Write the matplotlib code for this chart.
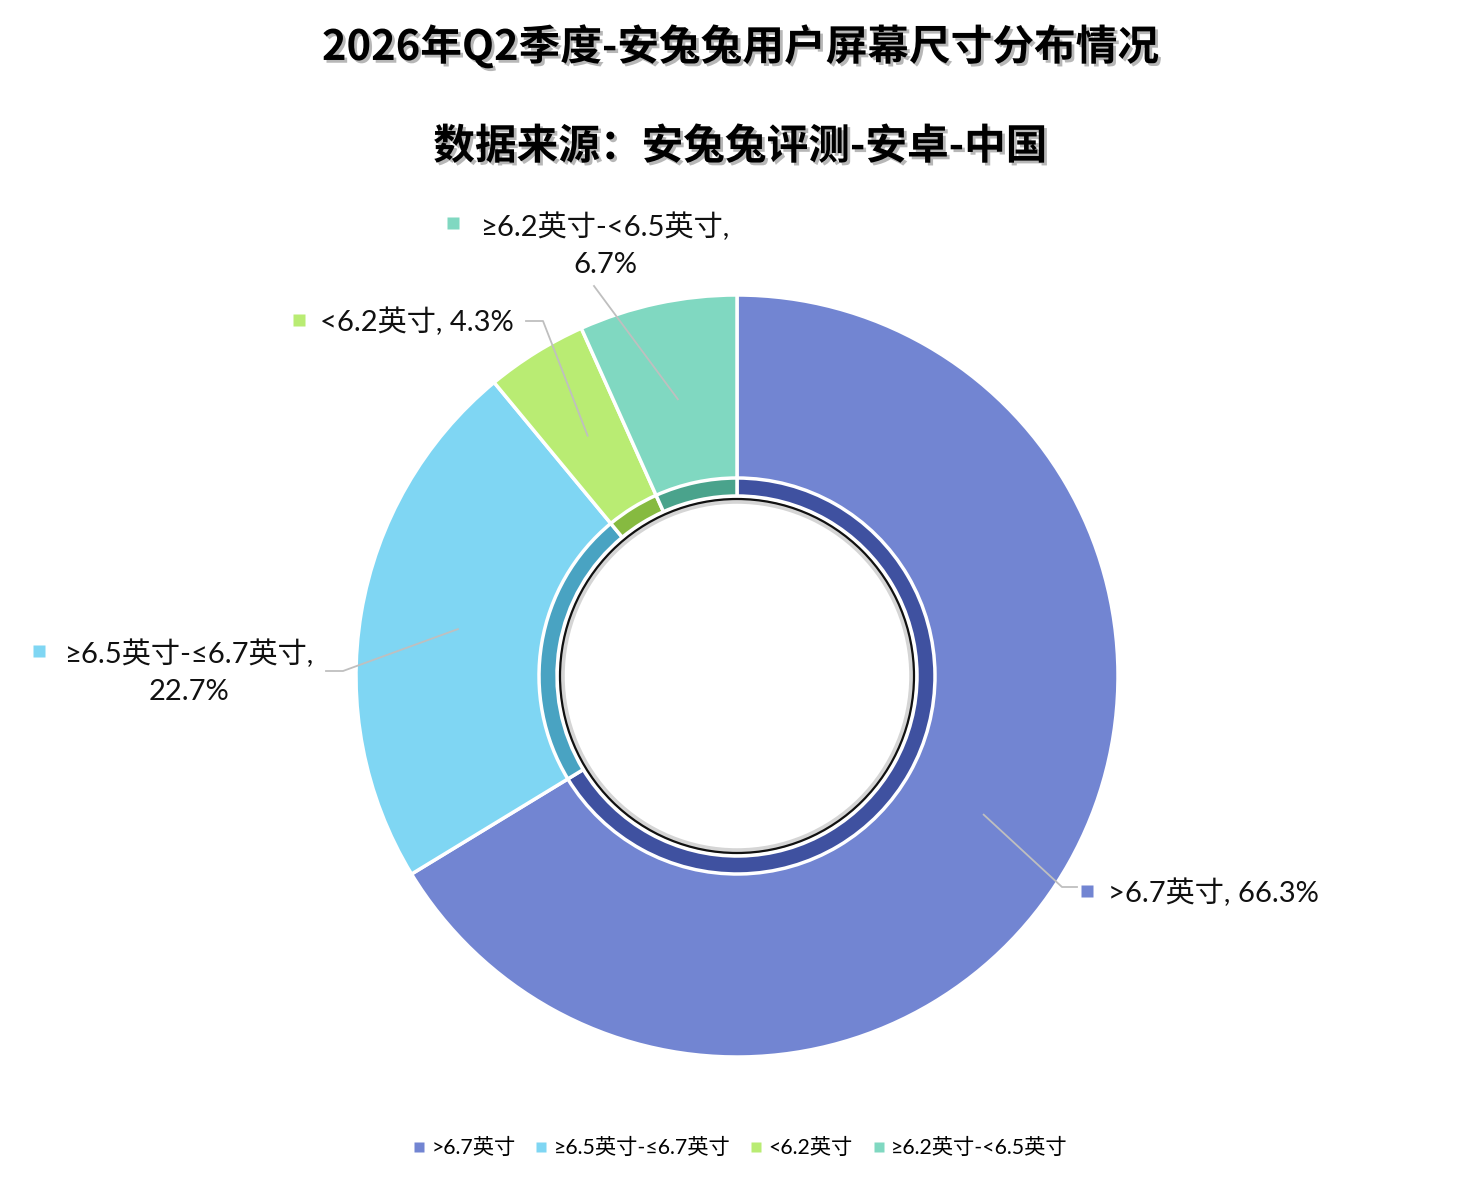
import matplotlib
matplotlib.use('Agg')
import matplotlib.pyplot as plt
import matplotlib.patheffects as pe
from matplotlib.patches import Circle
from matplotlib.lines import Line2D
import numpy as np

plt.rcParams['font.family'] = ['Noto Sans CJK SC', 'DejaVu Sans']
LABEL_FONT = ['Lato', 'Noto Sans CJK SC', 'DejaVu Sans']

title = '2026年Q2季度-安兔兔用户屏幕尺寸分布情况'
subtitle = '数据来源：安兔兔评测-安卓-中国'
categories = ['>6.7英寸', '≥6.5英寸-≤6.7英寸', '<6.2英寸', '≥6.2英寸-<6.5英寸']
shares = [66.3, 22.7, 4.3, 6.7]
data_labels = ['>6.7英寸, 66.3%', '≥6.5英寸-≤6.7英寸,\n22.7%', '<6.2英寸, 4.3%', '≥6.2英寸-<6.5英寸,\n6.7%']
colors = ['#7285D2', '#7FD6F3', '#B9EC73', '#80D8C1']
dark_colors = ['#3F51A0', '#49A3C2', '#86BA40', '#4AA38C']

W, H = 1481, 1185
fig = plt.figure(figsize=(W / 100, H / 100), dpi=100)
ax = fig.add_axes([0, 0, 1, 1])

def Y(y):
    return H - y

cx, cy = 737, Y(676)
R_out, R_ring, R_hole = 381, 198, 180

wedges, _ = ax.pie(shares, colors=colors, radius=R_out, center=(cx, cy), startangle=90,
                   counterclock=False,
                   wedgeprops=dict(width=R_out - R_hole, edgecolor='white', linewidth=2.5))
ax.pie(shares, colors=dark_colors, radius=R_ring, center=(cx, cy), startangle=90,
       counterclock=False,
       wedgeprops=dict(width=R_ring - R_hole, edgecolor='white', linewidth=2.5))
ax.add_patch(Circle((cx, cy), R_hole, fc='white', ec='none', zorder=5))
ax.add_patch(Circle((cx, cy), 175, fc='none', ec='#888888', lw=4, alpha=0.35, zorder=6))
ax.add_patch(Circle((cx, cy), 177, fc='none', ec='#111111', lw=1.6, zorder=7))

# label layout (pixel coords)
marker_pos = [(1087, 891), (39, 651), (299, 320), (453, 223)]
text_pos = [(1108, 893, 'left'), (189, 672, 'center'), (320, 322, 'left'), (605, 245, 'center')]
leader_pts = [[(1062, 887), (1077, 887)], [(343, 671), (326, 671)],
              [(543, 321), (526, 321)], [(594, 286)]]

for i, w in enumerate(wedges):
    mid = np.deg2rad((w.theta1 + w.theta2) / 2)
    sx, sy = cx + 283 * np.cos(mid), cy + 283 * np.sin(mid)
    xs = [sx] + [p[0] for p in leader_pts[i]]
    ys = [sy] + [Y(p[1]) for p in leader_pts[i]]
    ax.plot(xs, ys, color='#BFBFBF', lw=1.3, zorder=8)
    mx, my = marker_pos[i]
    ax.plot([mx], [Y(my)], marker='s', ms=9, color=colors[i], mec='none', zorder=9)
    tx, ty, ha = text_pos[i]
    ax.text(tx, Y(ty), data_labels[i], ha=ha, va='center', multialignment='center',
            fontsize=21, color='#111111', linespacing=1.5, zorder=9, family=LABEL_FONT)

shadow = [pe.withSimplePatchShadow(offset=(2, -2), shadow_rgbFace='#888888', alpha=0.6)]
ax.text(740, Y(47), title, ha='center', va='center', fontsize=30, fontweight='bold',
        color='black', path_effects=shadow)
ax.text(740, Y(147), subtitle, ha='center', va='center', fontsize=30, fontweight='bold',
        color='black', path_effects=shadow)

handles = [Line2D([], [], marker='s', ls='none', ms=7, color=c, mec='none') for c in colors]
fig.legend(handles, categories, loc='center', bbox_to_anchor=(740 / W, 1 - 1148 / H), ncol=4,
           frameon=False, prop={'family': LABEL_FONT, 'size': 15.3},
           handlelength=0.6, handletextpad=0.3, columnspacing=0.9)

ax.set_xlim(0, W)
ax.set_ylim(0, H)
ax.set_aspect('equal')
ax.axis('off')
fig.savefig('out.png', dpi=100, facecolor='white')
